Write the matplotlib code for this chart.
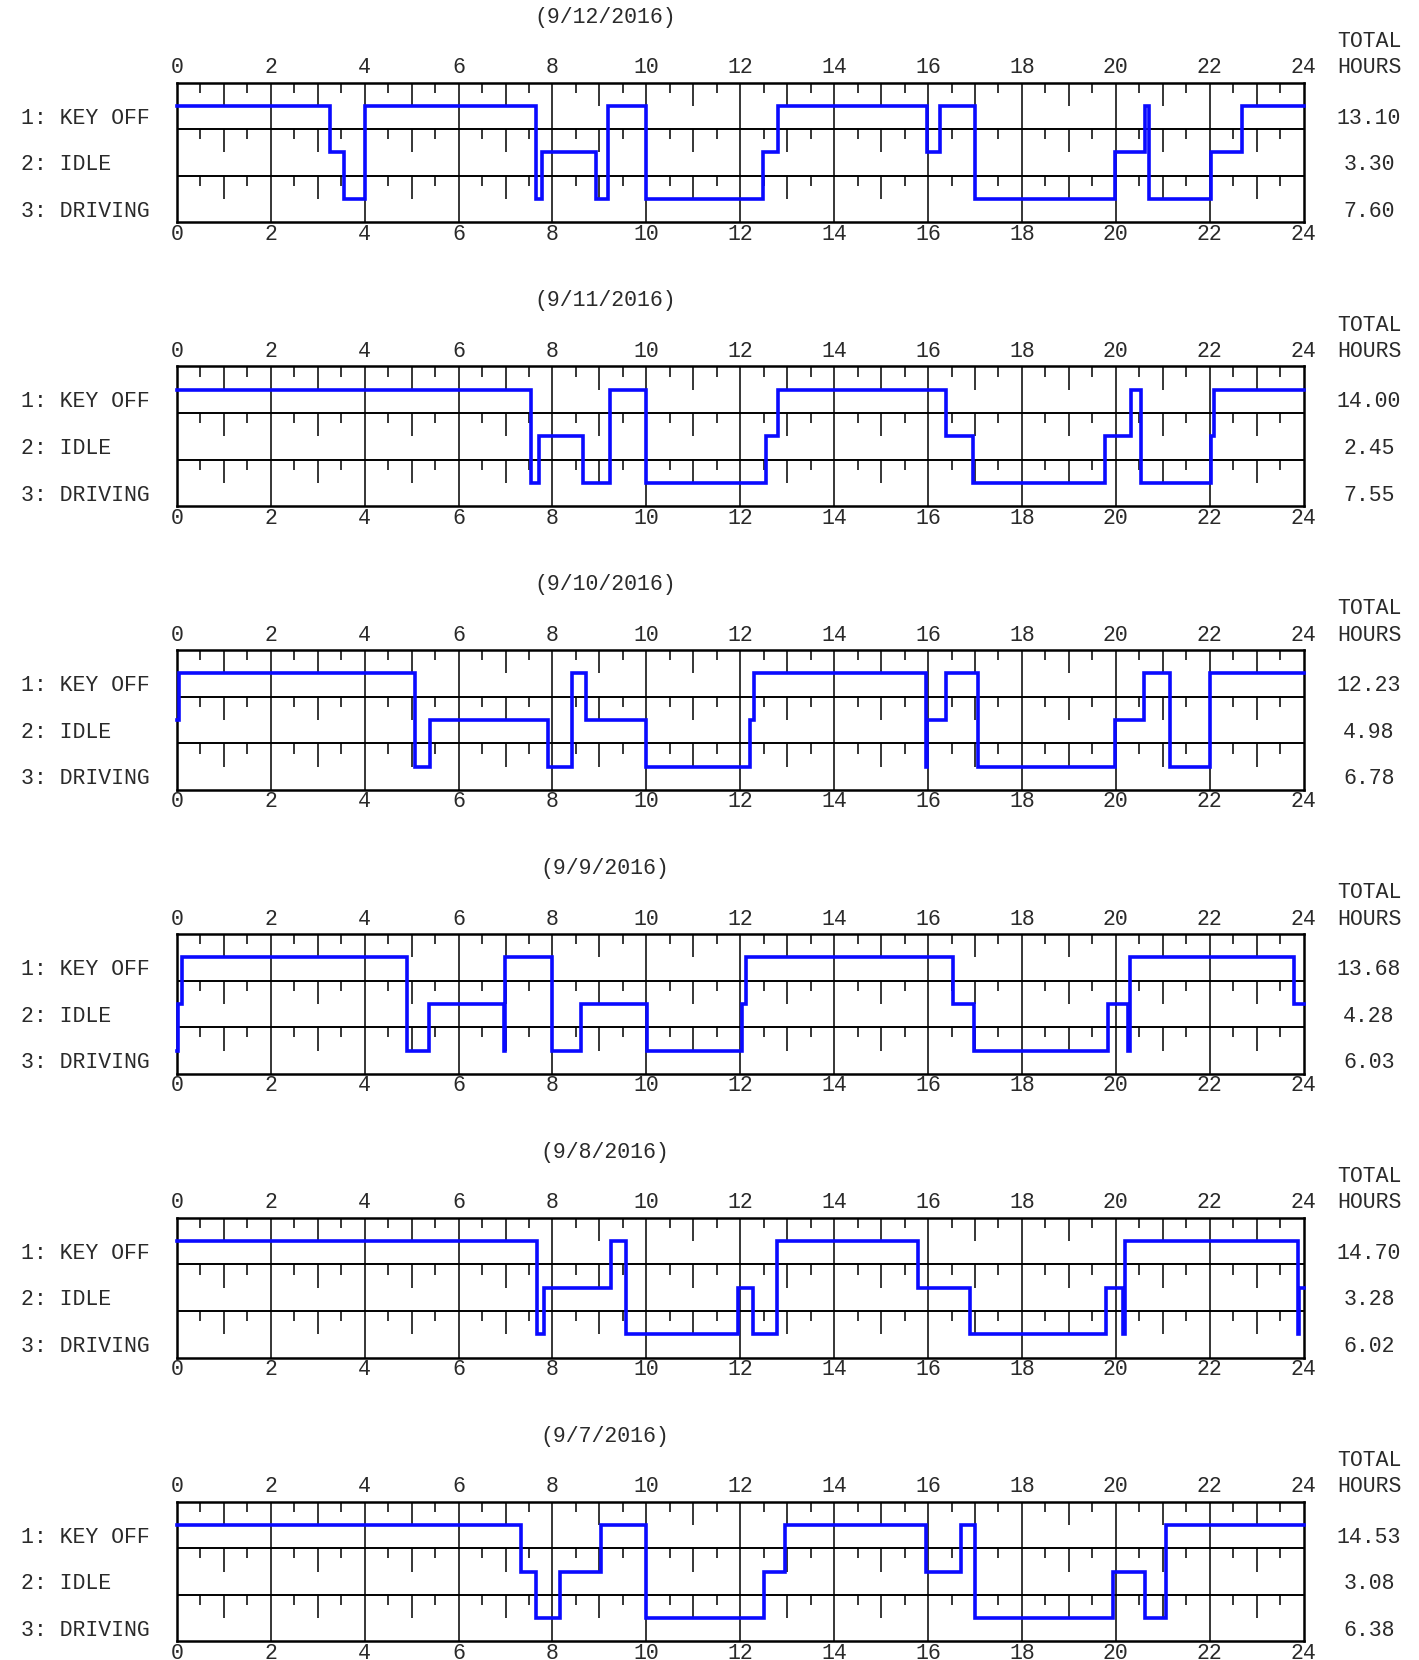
import matplotlib.pyplot as plt
from matplotlib.transforms import blended_transform_factory

# duty status codes: 1 = KEY OFF, 2 = IDLE, 3 = DRIVING
status_names = ['1: KEY OFF', '2: IDLE', '3: DRIVING']
hour_labels = [str(h) for h in range(0, 25, 2)]

dates = ['(9/12/2016)', '(9/11/2016)', '(9/10/2016)', '(9/9/2016)', '(9/8/2016)', '(9/7/2016)']

# change times (hours) and the status that starts at each time
t_0912 = [0, 3.27, 3.56, 4.00, 7.64, 7.78, 8.92, 9.18, 10.00, 12.48, 12.80, 15.97,
          16.26, 17.00, 19.98, 20.63, 20.70, 22.03, 22.68]
s_0912 = [1, 2, 3, 1, 3, 2, 3, 1, 3, 2, 1, 2, 1, 3, 2, 1, 3, 2, 1]

t_0911 = [0, 7.54, 7.71, 8.65, 9.23, 10.00, 12.54, 12.80, 16.38, 16.95, 19.77, 20.33,
          20.53, 22.02, 22.10]
s_0911 = [1, 3, 2, 3, 1, 3, 2, 1, 2, 3, 2, 1, 3, 2, 1]

t_0910 = [0, 0.05, 5.08, 5.39, 7.91, 8.41, 8.72, 10.00, 12.21, 12.30, 15.95, 15.98,
          16.38, 17.07, 19.98, 20.60, 21.16, 22.01]
s_0910 = [2, 1, 3, 2, 3, 1, 2, 3, 2, 1, 3, 2, 1, 3, 2, 1, 3, 1]

t_0909 = [0, 0.03, 0.11, 4.90, 5.37, 6.97, 6.99, 7.98, 8.60, 10.02, 12.04, 12.13,
          16.54, 16.98, 19.83, 20.26, 20.30, 23.80]
s_0909 = [3, 2, 1, 3, 2, 3, 1, 3, 2, 3, 2, 1, 2, 3, 2, 3, 1, 2]

t_0908 = [0, 7.68, 7.81, 9.24, 9.56, 11.96, 12.27, 12.79, 15.78, 16.90, 19.79, 20.15,
          20.20, 23.88, 23.91]
s_0908 = [1, 3, 2, 1, 3, 2, 3, 1, 2, 3, 2, 3, 1, 3, 2]

t_0907 = [0, 7.32, 7.65, 8.15, 9.03, 10.00, 12.51, 12.96, 15.95, 16.70, 17.00, 19.94,
          20.62, 21.07]
s_0907 = [1, 2, 3, 2, 1, 3, 2, 1, 2, 1, 3, 2, 3, 1]

totals_0912 = ['13.10', '3.30', '7.60']
totals_0911 = ['14.00', '2.45', '7.55']
totals_0910 = ['12.23', '4.98', '6.78']
totals_0909 = ['13.68', '4.28', '6.03']
totals_0908 = ['14.70', '3.28', '6.02']
totals_0907 = ['14.53', '3.08', '6.38']

all_times = [t_0912, t_0911, t_0910, t_0909, t_0908, t_0907]
all_status = [s_0912, s_0911, s_0910, s_0909, s_0908, s_0907]
all_totals = [totals_0912, totals_0911, totals_0910, totals_0909, totals_0908, totals_0907]

W, H = 1419, 1660
fig = plt.figure(figsize=(W / 100, H / 100), dpi=100)

FONT = 'Liberation Mono'
FS = 15.5
TXT = '#2a2a2a'

grid_left, grid_right = 176.9, 1303.6
grid_h = 139.8
first_top = 82.6
spacing = 283.8

for i in range(6):
    top = first_top + i * spacing
    ax = fig.add_axes([grid_left / W, 1 - (top + grid_h) / H,
                       (grid_right - grid_left) / W, grid_h / H])
    ax.set_xlim(0, 24)
    ax.set_ylim(3, 0)
    ax.set_xticks([])
    ax.set_yticks([])
    for sp in ax.spines.values():
        sp.set_linewidth(1.8)
        sp.set_color('black')

    # row separators and even-hour lines
    for r in (1, 2):
        ax.axhline(r, color='black', lw=1.4, zorder=1)
    for h in range(2, 24, 2):
        ax.axvline(h, color='black', lw=1.1, zorder=1)

    # hanging ticks inside each row
    for r in range(3):
        for k in range(1, 48):
            h = k / 2
            if h % 2 == 0:
                continue
            ln = 0.5 if h % 1 == 0 else 0.22
            ax.vlines(h, r, r + ln, color='black', lw=1.1, zorder=1)

    # duty status line
    x = all_times[i] + [24]
    y = [s - 0.5 for s in all_status[i]] + [all_status[i][-1] - 0.5]
    ax.step(x, y, where='post', color='#0a0aff', lw=2.6, zorder=3,
            clip_on=False, solid_joinstyle='miter')

    # hour labels above and below
    for h, lab in zip(range(0, 25, 2), hour_labels):
        ax.text(h, 1 + 9.3 / grid_h, lab, transform=ax.get_xaxis_transform(),
                ha='center', va='baseline', fontsize=FS, family=FONT, color=TXT)
        ax.text(h, -17.3 / grid_h, lab, transform=ax.get_xaxis_transform(),
                ha='center', va='baseline', fontsize=FS, family=FONT, color=TXT)

    # title
    ax.text((604.7 - grid_left) / (grid_right - grid_left), 1 + 60 / grid_h, dates[i],
            transform=ax.transAxes, ha='center', va='baseline',
            fontsize=FS, family=FONT, color=TXT)

    # totals header
    xt = 1369 / W
    bt = blended_transform_factory(fig.transFigure, ax.transAxes)
    ax.text(xt, 1 + 35.8 / grid_h, 'TOTAL', transform=bt, ha='center', va='baseline',
            fontsize=FS, family=FONT, color=TXT)
    ax.text(xt, 1 + 9.3 / grid_h, 'HOURS', transform=bt, ha='center', va='baseline',
            fontsize=FS, family=FONT, color=TXT)

    # row labels and totals
    bd = blended_transform_factory(fig.transFigure, ax.transData)
    for r in range(3):
        ax.text(21 / W, r + 0.88, status_names[r], transform=bd, ha='left',
                va='baseline', fontsize=FS, family=FONT, color=TXT)
        ax.text(xt, r + 0.88, all_totals[i][r], transform=bd, ha='center',
                va='baseline', fontsize=FS, family=FONT, color=TXT)

fig.savefig('out.png', dpi=100)
